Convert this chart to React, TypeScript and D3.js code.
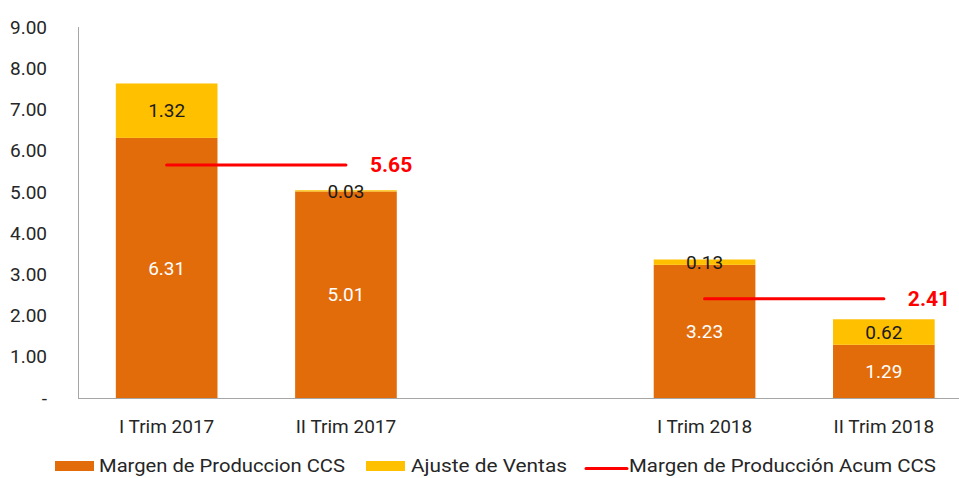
import React from "react";
import * as d3 from "d3";

const categories = ["I Trim 2017", "II Trim 2017", "", "I Trim 2018", "II Trim 2018"];
const margenProduccion = [6.31, 5.01, null, 3.23, 1.29];
const ajusteVentas = [1.32, 0.03, null, 0.13, 0.62];
const acumLines = [
  { from: "I Trim 2017", to: "II Trim 2017", value: 5.65 },
  { from: "I Trim 2018", to: "II Trim 2018", value: 2.41 },
];
const yTicks = [0, 1, 2, 3, 4, 5, 6, 7, 8, 9];
const legendLabels = ["Margen de Produccion CCS", "Ajuste de Ventas", "Margen de Producción Acum CCS"];

const ORANGE = "#E36C0A";
const YELLOW = "#FFC000";
const RED = "#FF0000";
const FONT = "Roboto, 'Liberation Sans Narrow', 'DejaVu Sans', sans-serif";
const FS = 19;

export default function App() {
  const W = 959, H = 478;
  const keys = categories.map((c, i) => c || "gap" + i);
  const x = d3.scaleBand<string>()
    .domain(keys)
    .range([77, 973.5])
    .paddingInner(0.433)
    .paddingOuter(0.2165);
  const y = d3.scaleLinear().domain([0, 9]).range([398, 27]);
  const bw = x.bandwidth();

  return (
    <svg width={W} height={H} style={{ position: "absolute", left: 0, top: 0, fontFamily: FONT }}>
      <rect width={W} height={H} fill="#fff" />
      {/* y axis */}
      <line x1={78.5} x2={78.5} y1={27} y2={398} stroke="#A6A6A6" strokeWidth={1} />
      {yTicks.map((t) => (
        <text key={t} x={47} y={y(t)} dy="0.35em" textAnchor="end" fontSize={FS} fill="#262626">
          {t === 0 ? "-" : t.toFixed(2)}
        </text>
      ))}
      {/* bars */}
      {keys.map((k, i) => {
        const m = margenProduccion[i];
        const a = ajusteVentas[i];
        if (m == null || a == null) return null;
        const x0 = x(k)!;
        const cx = x0 + bw / 2;
        return (
          <g key={k}>
            <rect x={x0} width={bw} y={y(m)} height={y(0) - y(m)} fill={ORANGE} />
            <rect x={x0} width={bw} y={y(m + a)} height={y(m) - y(m + a)} fill={YELLOW} />
            <text x={cx} y={y(m / 2)} dy="0.35em" textAnchor="middle" fontSize={FS} fill="#fff">
              {m.toFixed(2)}
            </text>
            <text x={cx} y={y(m + a / 2)} dy="0.35em" textAnchor="middle" fontSize={FS} fill="#1a1a1a">
              {a.toFixed(2)}
            </text>
          </g>
        );
      })}
      <line x1={78} x2={W} y1={398.5} y2={398.5} stroke="#A6A6A6" strokeWidth={1} />
      {/* category labels */}
      {keys.map((k, i) => (
        <text key={k} x={x(k)! + bw / 2} y={426} dy="0.35em" textAnchor="middle" fontSize={FS} fill="#262626">
          {categories[i]}
        </text>
      ))}
      {/* acum lines */}
      {acumLines.map((l) => {
        const x1 = x(l.from)! + bw / 2;
        const x2 = x(l.to)! + bw / 2;
        return (
          <g key={l.from}>
            <line x1={x1} x2={x2} y1={y(l.value)} y2={y(l.value)} stroke={RED} strokeWidth={3} strokeLinecap="round" />
            <text x={x2 + 24} y={y(l.value)} dy="0.35em" fontSize={21} fontWeight="bold" fill={RED}>
              {l.value.toFixed(2)}
            </text>
          </g>
        );
      })}
      {/* legend */}
      <g fontSize={FS} fill="#262626">
        <rect x={55} y={461} width={39} height={10} fill={ORANGE} />
        <text x={99} y={472} textLength={246} lengthAdjust="spacingAndGlyphs">{legendLabels[0]}</text>
        <rect x={366} y={461} width={39} height={10} fill={YELLOW} />
        <text x={411} y={472} textLength={156} lengthAdjust="spacingAndGlyphs">{legendLabels[1]}</text>
        <line x1={586} x2={627} y1={468.5} y2={468.5} stroke={RED} strokeWidth={3} strokeLinecap="round" />
        <text x={629} y={472} textLength={307} lengthAdjust="spacingAndGlyphs">{legendLabels[2]}</text>
      </g>
    </svg>
  );
}
